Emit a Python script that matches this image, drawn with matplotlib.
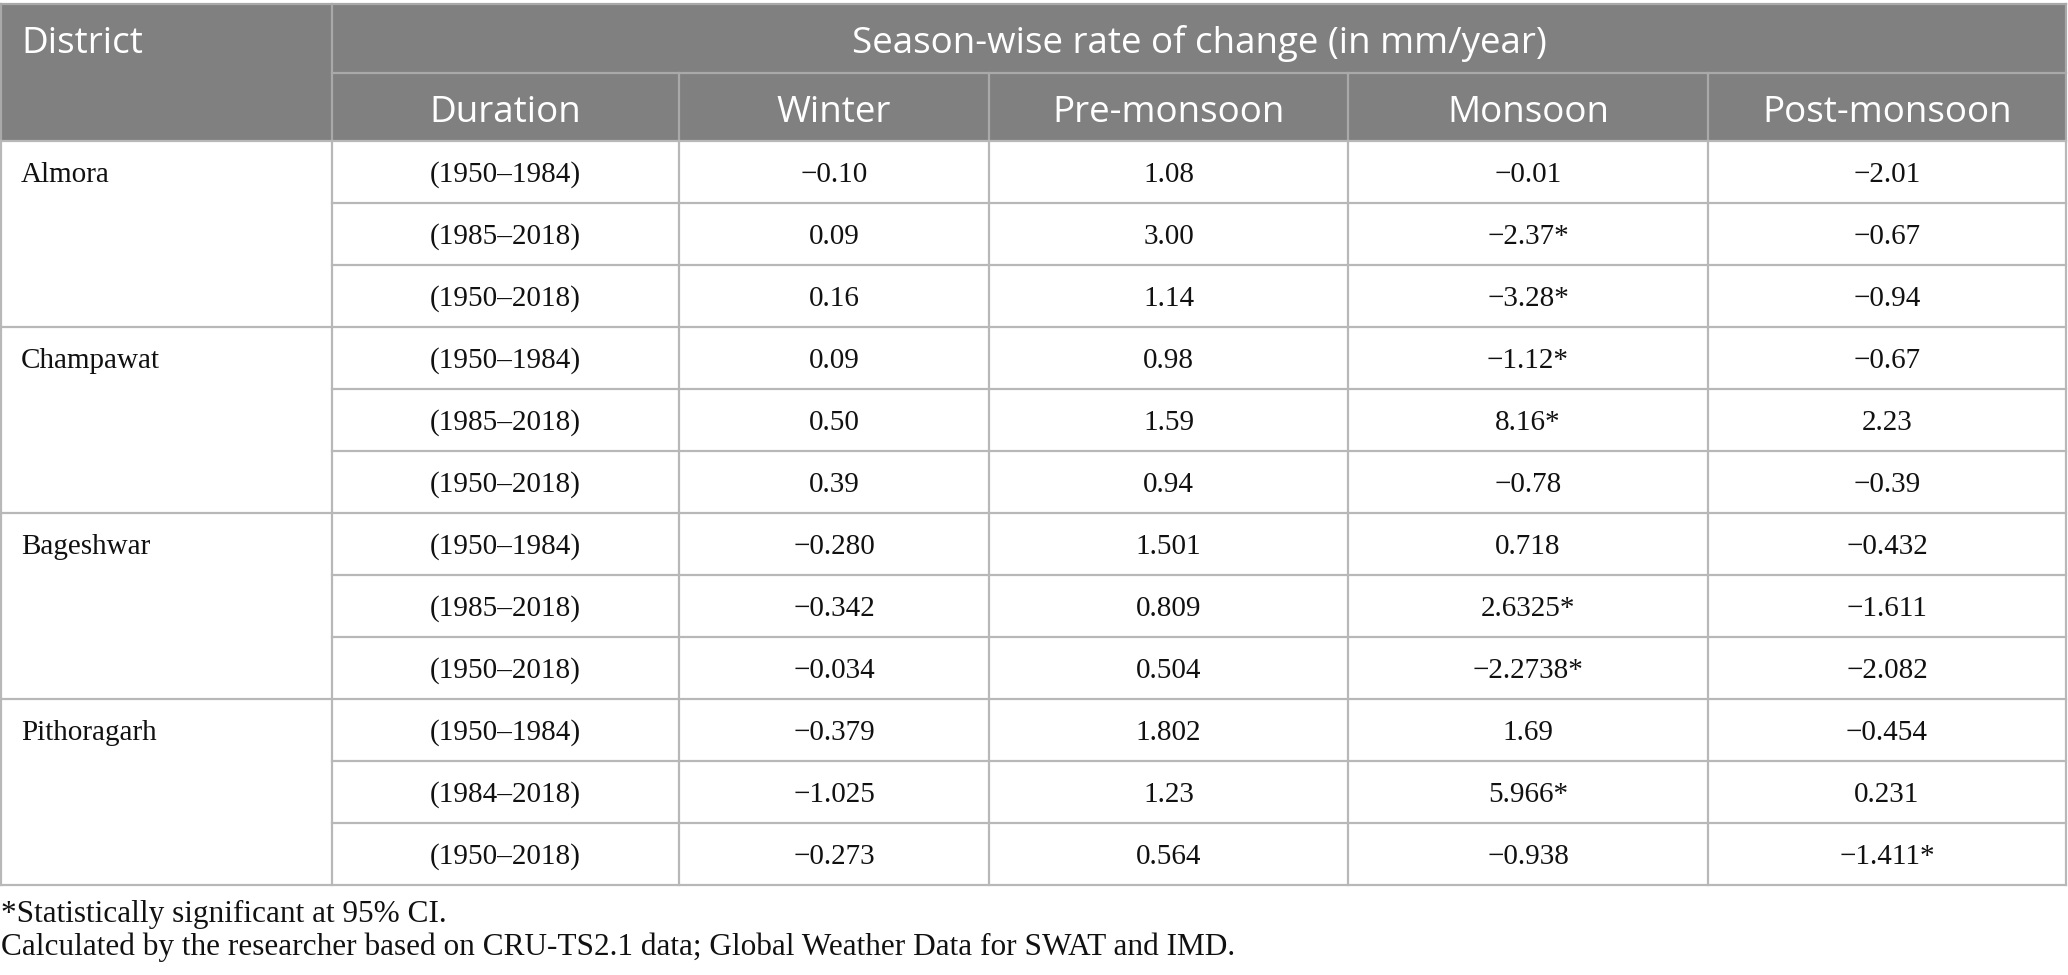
import matplotlib
matplotlib.use("Agg")
import matplotlib.pyplot as plt
from matplotlib.patches import Rectangle

districts = ["Almora", "Champawat", "Bageshwar", "Pithoragarh"]
durations = ["(1950–1984)", "(1985–2018)", "(1950–2018)",
             "(1950–1984)", "(1985–2018)", "(1950–2018)",
             "(1950–1984)", "(1985–2018)", "(1950–2018)",
             "(1950–1984)", "(1984–2018)", "(1950–2018)"]
winter = ["-0.10", "0.09", "0.16", "0.09", "0.50", "0.39",
          "-0.280", "-0.342", "-0.034", "-0.379", "-1.025", "-0.273"]
pre_monsoon = ["1.08", "3.00", "1.14", "0.98", "1.59", "0.94",
               "1.501", "0.809", "0.504", "1.802", "1.23", "0.564"]
monsoon = ["-0.01", "-2.37*", "-3.28*", "-1.12*", "8.16*", "-0.78",
           "0.718", "2.6325*", "-2.2738*", "1.69", "5.966*", "-0.938"]
post_monsoon = ["-2.01", "-0.67", "-0.94", "-0.67", "2.23", "-0.39",
                "-0.432", "-1.611", "-2.082", "-0.454", "0.231", "-1.411*"]
column_headers = ["Duration", "Winter", "Pre-monsoon", "Monsoon", "Post-monsoon"]
group_header = "Season-wise rate of change (in mm/year)"
first_header = "District"
footnotes = ["*Statistically significant at 95% CI.",
             "Calculated by the researcher based on CRU-TS2.1 data; Global Weather Data for SWAT and IMD."]

W, H = 2068, 975
fig = plt.figure(figsize=(W / 100, H / 100), dpi=100)
ax = fig.add_axes([0, 0, 1, 1])
ax.set_xlim(0, W)
ax.set_ylim(H, 0)
ax.axis("off")

cols = [1, 332, 679, 989, 1348, 1708, 2066]
top, mid, hbot = 4, 73, 141
rh = 62
nrows = len(durations)
bottom = hbot + rh * nrows

head_font = "Open Sans"
body_font = "Liberation Serif"
hfs = 26.5
bfs = 21
ffs = 22.5

hdr_col = "#808080"
hline = "#a9a9a9"
bline = "#b8b8b8"
txt = "#111111"
lw = 1.6

# header background
ax.add_patch(Rectangle((cols[0], top), cols[-1] - cols[0], hbot - top,
                       facecolor=hdr_col, edgecolor="none", zorder=1))
# header lines
ax.plot([cols[0], cols[-1]], [top, top], color=hline, lw=lw, zorder=2)
ax.plot([cols[1], cols[-1]], [mid, mid], color=hline, lw=lw, zorder=2)
ax.plot([cols[1], cols[1]], [top, hbot], color=hline, lw=lw, zorder=2)
for c in cols[2:-1]:
    ax.plot([c, c], [mid, hbot], color=hline, lw=lw, zorder=2)
ax.plot([cols[0], cols[0]], [top, hbot], color=hline, lw=lw, zorder=2)
ax.plot([cols[-1], cols[-1]], [top, hbot], color=hline, lw=lw, zorder=2)

# header text
ax.text(21, (top + mid) / 2 + 1, first_header, family=head_font, fontsize=hfs,
        color="white", ha="left", va="center_baseline", zorder=3)
ax.text((cols[1] + cols[-1]) / 2, (top + mid) / 2 + 1, group_header, family=head_font,
        fontsize=hfs, color="white", ha="center", va="center_baseline", zorder=3)
for i, h in enumerate(column_headers):
    ax.text((cols[i + 1] + cols[i + 2]) / 2, (mid + hbot) / 2 + 1, h, family=head_font,
            fontsize=hfs, color="white", ha="center", va="center_baseline", zorder=3)

# body lines
for r in range(nrows + 1):
    y = hbot + r * rh
    x0 = cols[0] if r % 3 == 0 else cols[1]
    ax.plot([x0, cols[-1]], [y, y], color=bline, lw=lw, zorder=2)
for c in cols:
    ax.plot([c, c], [hbot, bottom], color=bline, lw=lw, zorder=2)

def fmt(s):
    return s.replace("-", "\u2212")

series = [durations, winter, pre_monsoon, monsoon, post_monsoon]
for r in range(nrows):
    yc = hbot + r * rh + rh / 2 + 3
    if r % 3 == 0:
        ax.text(21, yc, districts[r // 3], family=body_font, fontsize=bfs,
                color=txt, ha="left", va="center", zorder=3)
    for j, ser in enumerate(series):
        ax.text((cols[j + 1] + cols[j + 2]) / 2, yc, fmt(ser[r]) if j > 0 else ser[r],
                family=body_font, fontsize=bfs, color=txt,
                ha="center", va="center", zorder=3)

ax.text(1, 914, footnotes[0], family=body_font, fontsize=ffs, color=txt,
        ha="left", va="center")
ax.text(1, 947, footnotes[1], family=body_font, fontsize=ffs, color=txt,
        ha="left", va="center")

fig.savefig("out.png", dpi=100, facecolor="white")
